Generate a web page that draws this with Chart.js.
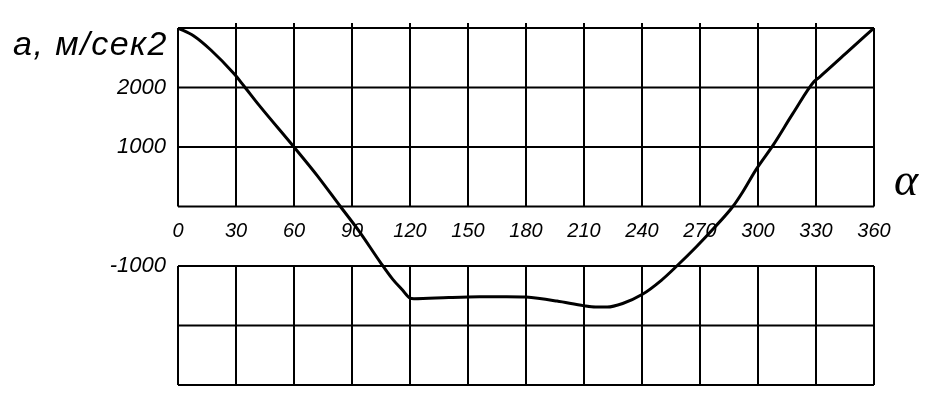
<!DOCTYPE html>
<html>
<head>
<meta charset="utf-8">
<script src="https://cdn.jsdelivr.net/npm/chart.js@4/dist/chart.umd.min.js"></script>
<style>
  html, body { margin: 0; padding: 0; background: #ffffff; }
  #wrap { width: 941px; height: 398px; position: relative; }
</style>
</head>
<body>
<div id="wrap"><canvas id="c"></canvas></div>
<script>
// ---- data ----
const alpha = [0, 8, 17, 29, 34, 42, 60, 72, 84, 94, 104.5, 111, 116, 120, 122, 140, 156, 170, 180, 196, 210, 216, 222, 230, 240, 250, 258, 268, 277, 287, 292, 299, 308, 318, 329, 332, 345, 360];
const accel = [3000, 2870, 2630, 2230, 2030, 1700, 1000, 520, 0, -430, -930, -1220, -1400, -1540, -1550, -1530, -1517, -1515, -1523, -1590, -1670, -1690, -1690, -1630, -1480, -1240, -1000, -680, -370, 0, 240, 620, 1040, 1560, 2100, 2180, 2560, 3000];
const xTickLabels = ['0', '30', '60', '90', '120', '150', '180', '210', '240', '270', '300', '330', '360'];
const xGridValues = [0, 30, 60, 90, 120, 150, 180, 210, 240, 270, 300, 330, 360];
const yTickValues = [2000, 1000, -1000];
const yTickLabels = ['2000', '1000', '-1000'];
const upperBand = [3000, 2000, 1000, 0];
const lowerBand = [-1000, -2000, -3000];
const yTitle = 'a, м/сек2';
const xTitle = 'α';

const gridPlugin = {
  id: 'brokenGrid',
  beforeDatasetsDraw(chart) {
    const ctx = chart.ctx;
    const xs = chart.scales.x, ys = chart.scales.y;
    const x0 = xs.getPixelForValue(xGridValues[0]);
    const x1 = xs.getPixelForValue(xGridValues[xGridValues.length - 1]);
    ctx.save();
    ctx.strokeStyle = '#000';
    ctx.lineWidth = 2;
    function band(vals, overshoot) {
      const top = ys.getPixelForValue(vals[0]);
      const bot = ys.getPixelForValue(vals[vals.length - 1]);
      ctx.beginPath();
      vals.forEach(v => {
        const y = ys.getPixelForValue(v);
        ctx.moveTo(x0, y); ctx.lineTo(x1, y);
      });
      xGridValues.forEach((g, i) => {
        const x = xs.getPixelForValue(g);
        const isEdge = i === 0 || i === xGridValues.length - 1;
        ctx.moveTo(x, isEdge ? top : top - overshoot);
        ctx.lineTo(x, bot);
      });
      ctx.stroke();
    }
    band(upperBand, 5);
    band(lowerBand, 0);
    ctx.restore();
  },
  afterDraw(chart) {
    const ctx = chart.ctx;
    ctx.save();
    ctx.fillStyle = '#000';
    ctx.font = 'italic 34px "Liberation Sans", Arial, sans-serif';
    ctx.letterSpacing = '1.5px';
    ctx.textAlign = 'right';
    ctx.textBaseline = 'alphabetic';
    ctx.fillText(yTitle, 168, 55);
    ctx.letterSpacing = '0px';
    ctx.font = 'italic 46px "Liberation Serif", serif';
    ctx.textAlign = 'center';
    ctx.fillText(xTitle, 906, 195);
    ctx.restore();
  }
};

new Chart(document.getElementById('c'), {
  type: 'line',
  data: {
    datasets: [{
      data: alpha.map((a, i) => ({ x: a, y: accel[i] })),
      borderColor: '#000',
      borderWidth: 3,
      pointRadius: 0,
      cubicInterpolationMode: 'monotone',
      fill: false
    }]
  },
  options: {
    responsive: true,
    maintainAspectRatio: false,
    animation: false,
    devicePixelRatio: 1,
    layout: { padding: { top: 28, bottom: 13, left: 0, right: 67 } },
    plugins: { legend: { display: false }, tooltip: { enabled: false }, title: { display: false } },
    scales: {
      x: {
        type: 'linear',
        min: 0, max: 360,
        position: { y: 0 },
        grid: { display: false, drawTicks: false },
        border: { display: false },
        ticks: {
          stepSize: 30,
          autoSkip: false,
          maxRotation: 0,
          padding: 13,
          color: '#000',
          font: { family: '"Liberation Sans", Arial, sans-serif', size: 20, style: 'italic' },
          callback: (v) => { const i = xGridValues.indexOf(v); return i >= 0 ? xTickLabels[i] : null; }
        }
      },
      y: {
        type: 'linear',
        min: -3000, max: 3000,
        grid: { display: false, drawTicks: false },
        border: { display: false },
        afterFit: (s) => { s.width = 178; s.paddingTop = 0; s.paddingBottom = 0; },
        ticks: {
          stepSize: 1000,
          autoSkip: false,
          padding: 12,
          color: '#000',
          font: { family: '"Liberation Sans", Arial, sans-serif', size: 22, style: 'italic' },
          callback: (v) => { const i = yTickValues.indexOf(v); return i >= 0 ? yTickLabels[i] : null; }
        }
      }
    }
  },
  plugins: [gridPlugin]
});
</script>
</body>
</html>
